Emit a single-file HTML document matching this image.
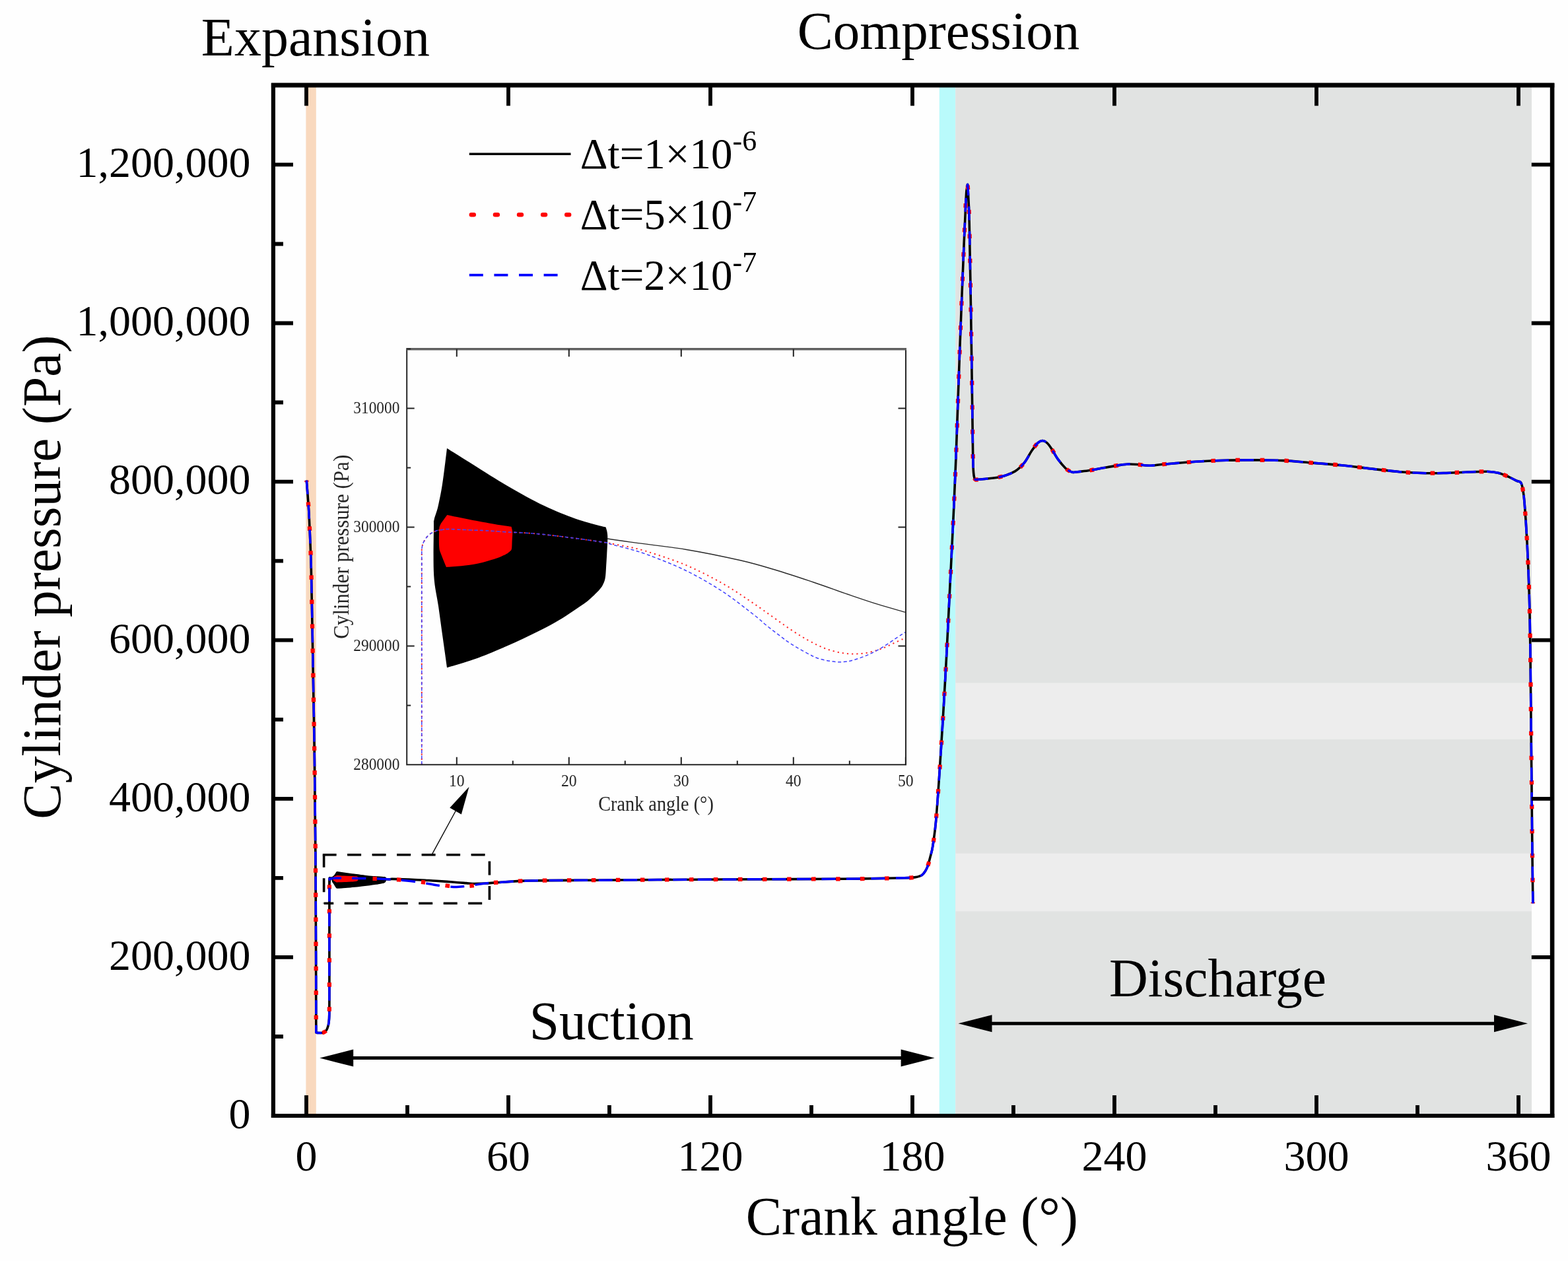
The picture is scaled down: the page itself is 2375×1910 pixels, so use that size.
<!DOCTYPE html>
<html lang="en">
<head>
<meta charset="utf-8">
<title>Cylinder pressure vs crank angle</title>
<style>
html,body{margin:0;padding:0;background:#fefefe;}
body{width:2375px;height:1910px;overflow:hidden;}
svg{display:block;font-family:"Liberation Serif","DejaVu Serif",serif;}
#fig{width:2375px;height:1910px;}
svg text{white-space:pre;}
</style>
</head>
<body>
<div id="fig">
<svg width="2375" height="1910" viewBox="0 0 2375 1910">
<rect width="2375" height="1910" fill="#fefefe"/>
<rect x="463.4" y="129" width="15.4" height="1561" fill="#f9d9be"/>
<rect x="1422.8" y="129" width="24.4" height="1561" fill="#b9fafb"/>
<rect x="1447.2" y="129" width="872.8" height="1561" fill="#e1e3e2"/>
<rect x="1447.2" y="1034.3" width="872.8" height="85.6" fill="#ededed"/>
<rect x="1447.2" y="1292.7" width="872.8" height="87.6" fill="#ededed"/>
<g id="inset">
<path d="M677 679 C682.8 682.6 697.3 691.7 711.5 700.6 C725.7 709.5 744.6 721.9 762.3 732.3 C780 742.7 800.4 754.4 817.7 762.9 C835 771.4 851.8 778.1 865.9 783.4 C880 788.7 893.5 792.2 902.1 794.7 C910.7 797.2 915 797.8 917.6 798.4 L917.6 798.4 C917.9 799.7 919.2 803.1 919.6 806 C920 808.9 920.4 810.3 920.3 816 C920.2 821.7 919.6 832.7 919.2 840 C918.8 847.3 918.4 854 918 860 C917.6 866 917.5 871.5 916.6 876 C915.7 880.5 914.2 883.8 912.5 887 C910.8 890.2 907.4 893.7 906.4 895 L906.4 895 C904.5 896.8 899.1 902.4 895 906 C890.9 909.6 890.7 910.3 881.5 916.5 C872.3 922.7 856.1 934.2 840 943.3 C823.9 952.4 803.1 962.5 784.6 971 C766.1 979.5 743.3 989 729.2 994.6 C715.1 1000.2 708.7 1001.7 700 1004.5 C691.3 1007.3 680.9 1010.1 677.1 1011.2 L677.1 1011.2 C676.1 1004.1 673.2 983.8 671 968.3 C668.8 952.8 666.4 934.5 664.1 918.4 C661.8 902.2 658.4 891.2 657.2 871.4 C656 851.6 656.9 813.7 657 799.6 C657.1 785.5 656.6 792.2 657.6 786.9 C658.6 781.6 661.3 776.4 663.3 767.9 C665.3 759.4 667.7 747.7 669.6 736.1 C671.5 724.5 673.5 707.6 674.7 698.1 C675.9 688.6 676.6 682.2 677 679 Z" fill="#000"/>
<path d="M920 816 C925.9 816.9 935.7 818.4 955.4 821.1 C975.1 823.8 1010.7 827.6 1038.4 832.2 C1066.1 836.8 1098.4 843.5 1121.5 848.8 C1144.6 854.1 1158.4 858.5 1176.9 864 C1195.4 869.5 1213.8 875.8 1232.3 882 C1250.8 888.2 1271.5 895.9 1287.7 901.4 C1303.9 906.9 1315.2 910.8 1329.2 915.2 C1343.2 919.6 1364.9 925.5 1372 927.6" fill="none" stroke="#2a2a2a" stroke-width="1.4"/>
<path d="M677.3 779.9 C683 781.1 699.5 784.6 711.5 786.9 C723.5 789.2 739.1 792.1 749.6 793.9 C760.1 795.7 770.4 797.1 774.5 797.7 L774.5 797.7 C774.8 799.1 776 802.2 776.2 805.9 C776.4 809.6 775.8 815.8 775.6 820 C775.4 824.2 775.5 828.8 775 831.3 C774.5 833.8 773.6 833.9 772.5 835 C771.4 836.1 769.2 837.7 768.6 838.2 L768.6 838.2 C767.2 838.9 763.2 841.1 760 842.5 C756.8 843.9 755.6 844.7 749.6 846.5 C743.6 848.3 732.7 851.7 724.2 853.5 C715.7 855.3 706.8 856.4 698.8 857.3 C690.8 858.2 679.8 858.7 676 859 L676 859 C674.7 855.9 670.2 845.2 668.4 840.2 C666.6 835.2 665.7 834.9 665.2 828.8 C664.7 822.7 664.9 809.1 665.2 803.4 C665.5 797.7 665.9 797.2 667.1 794.5 C668.3 791.8 670.5 789.3 672.2 786.9 C673.9 784.5 676.4 781.1 677.3 779.9 Z" fill="#fe0000"/>
<path d="M638.8 1158 C638.8 1103.7 638.8 886.3 638.8 832 L638.8 832 C639.1 830.6 639.4 826.6 640.5 823.7 C641.6 820.8 643.6 817.3 645.5 814.8 C647.4 812.3 649.4 810.3 651.9 808.5 C654.4 806.7 657.8 805 660.8 804 C663.8 803 666.4 802.8 669.6 802.4 C672.8 802 672.8 801.4 679.8 801.5 C686.8 801.6 702 802.4 711.5 802.8 C721 803.2 727.4 803.3 736.9 803.8 C746.4 804.3 756.4 805.2 768.6 805.9 C780.8 806.6 793.9 806.8 810 808.2 C826.1 809.6 846.8 812.2 865 814.5 C883.2 816.8 909 820.5 919 822 C929 823.5 919 822.1 925 823.3 C931 824.5 945.3 826.8 955 829 C964.7 831.2 969.1 831.8 983 836.3 C996.9 840.8 1019.9 847.9 1038.4 855.7 C1056.9 863.6 1076.5 873.6 1093.8 883.4 C1111.1 893.2 1124 902.2 1142.2 914.5 C1160.4 926.8 1186.6 946.4 1202.7 956.9 C1218.8 967.4 1228.9 972.6 1239 977.5 C1249.1 982.4 1255.2 984.3 1263.3 986.4 C1271.4 988.5 1279.4 989.9 1287.5 990.3 C1295.6 990.7 1303.6 990.3 1311.7 989 C1319.8 987.7 1328 985.2 1336 982.3 C1344 979.3 1354 974 1360 971.3 C1366 968.6 1370 966.9 1372 966" fill="none" stroke="#ff2a2a" stroke-width="2" stroke-dasharray="2.2 5"/>
<path d="M638.8 1158 C638.8 1103.7 638.8 886.3 638.8 832 L638.8 832 C639.1 830.6 639.4 826.6 640.5 823.7 C641.6 820.8 643.6 817.3 645.5 814.8 C647.4 812.3 649.4 810.3 651.9 808.5 C654.4 806.7 657.8 805 660.8 804 C663.8 803 666.4 802.8 669.6 802.4 C672.8 802 672.8 801.4 679.8 801.5 C686.8 801.6 702 802.4 711.5 802.8 C721 803.2 727.4 803.3 736.9 803.8 C746.4 804.3 756.4 805.2 768.6 805.9 C780.8 806.6 793.9 806.8 810 808.2 C826.1 809.6 846.8 812.2 865 814.5 C883.2 816.8 909 820.4 919 822 C929 823.6 919 822.6 925 824.3 C931 826 945.3 829.2 955 832 C964.7 834.8 969.1 835.7 983 841 C996.9 846.3 1019.9 854.9 1038.4 864 C1056.9 873.1 1076.5 884.2 1093.8 895.5 C1111.1 906.8 1131.2 923 1142.2 931.5 C1153.2 940 1153.9 941.5 1160 946.5 C1166.1 951.5 1172.6 956.5 1178.9 961.2 C1185.2 966 1190.5 970.3 1197.8 975 C1205.1 979.7 1215.6 985.8 1222.9 989.6 C1230.2 993.4 1234.7 995.9 1241.8 998 C1248.9 1000.1 1259.4 1001.8 1265.8 1002.5 C1272.2 1003.2 1275.7 1002.6 1280 1002.2 C1284.3 1001.8 1285.8 1001.8 1291.4 1000.2 C1297 998.6 1306 995.7 1313.6 992.4 C1321.2 989.1 1329.3 984.8 1337 980.2 C1344.7 975.6 1354.2 968.6 1360 964.8 C1365.8 961 1370 958.5 1372 957.2" fill="none" stroke="#4040ff" stroke-width="1.5" stroke-dasharray="5 3.6"/>
<path d="M616.2 527.7V1158.2H1372V527.7" fill="none" stroke="#262626" stroke-width="2"/>
<path d="M615.2 528.8H1373" fill="none" stroke="#606060" stroke-width="3.6"/>
<path d="M691.8 1158.2v-11.5 M691.8 528.7v11.5 M776.8 1158.2v-6 M861.8 1158.2v-11.5 M861.8 528.7v11.5 M946.8 1158.2v-6 M1031.8 1158.2v-11.5 M1031.8 528.7v11.5 M1116.8 1158.2v-6 M1201.8 1158.2v-11.5 M1201.8 528.7v11.5 M1286.8 1158.2v-6 M1371.8 1158.2v-11.5 M616.2 1068.5h6 M616.2 978.5h11.5 M1372 978.5h-11.5 M616.2 888.5h6 M616.2 798.5h11.5 M1372 798.5h-11.5 M616.2 708.5h6 M616.2 618.5h11.5 M1372 618.5h-11.5 M616.2 528.5h6" fill="none" stroke="#222" stroke-width="2"/>
<g fill="#262626">
<text transform="translate(691.8 1190.5) scale(0.93 1)" font-size="25.5" text-anchor="middle">10</text>
<text transform="translate(861.8 1190.5) scale(0.93 1)" font-size="25.5" text-anchor="middle">20</text>
<text transform="translate(1031.8 1190.5) scale(0.93 1)" font-size="25.5" text-anchor="middle">30</text>
<text transform="translate(1201.8 1190.5) scale(0.93 1)" font-size="25.5" text-anchor="middle">40</text>
<text transform="translate(1371.8 1190.5) scale(0.93 1)" font-size="25.5" text-anchor="middle">50</text>
<text transform="translate(605.3 1166.3) scale(0.915 1)" font-size="25.5" text-anchor="end">280000</text>
<text transform="translate(605.3 986.3) scale(0.915 1)" font-size="25.5" text-anchor="end">290000</text>
<text transform="translate(605.3 806.3) scale(0.915 1)" font-size="25.5" text-anchor="end">300000</text>
<text transform="translate(605.3 626.3) scale(0.915 1)" font-size="25.5" text-anchor="end">310000</text>
<text transform="translate(993.5 1228.2) scale(0.928 1)" font-size="30.5" text-anchor="middle">Crank angle (°)</text>
<text transform="translate(527.7 828.3) rotate(-90) scale(0.94 1)" font-size="33" text-anchor="middle">Cylinder pressure (Pa)</text>
</g>
</g>
<g id="curves" fill="none" stroke-linejoin="round">
<path d="M464.3 727.7 C464.6 731.8 465.5 742.2 466.2 752 C466.9 761.8 467.6 769.2 468.4 786.5 C469.2 803.8 470.4 829.8 471.2 855.7 C471.9 881.7 472.3 910.5 472.9 942.2 C473.5 973.9 474.1 1011.4 474.7 1046 C475.3 1080.6 475.9 1109.5 476.4 1149.8 C476.9 1190.1 477.4 1238 477.8 1288 C478.2 1338 478.4 1406.2 478.6 1450 C478.8 1493.8 478.8 1532.2 478.8 1551 C478.8 1569.8 478.8 1560.6 478.8 1562.5 L478.8 1563.8 C479.1 1563.9 478.9 1564.3 480.5 1564.4 C482.1 1564.5 486.4 1564.7 488.5 1564.3 C490.6 1563.9 491.8 1563.1 493 1562 C494.2 1560.9 495 1559.8 495.8 1557.6 C496.6 1555.4 497.5 1552.8 498 1549 C498.5 1545.2 498.7 1543.2 498.8 1535 C498.9 1526.8 498.9 1505.8 498.9 1500 L498.9 1500 C498.9 1474.2 498.9 1371.7 498.9 1345 C498.9 1318.3 498.9 1340.8 498.9 1340 L498.9 1340 C499 1339 499 1335.5 499.3 1334 C499.6 1332.5 499.9 1331.8 500.5 1331.2 C501.1 1330.6 502.1 1330.4 503 1330.2 C503.9 1330 492.5 1329.7 506 1330 C519.5 1330.3 569.3 1331.6 584 1331.8 C598.7 1332 588.2 1331.3 594.1 1331.4 C599.9 1331.4 610.7 1331.8 619 1332.1 C627.3 1332.4 637 1332.9 643.9 1333.2 C650.8 1333.6 655 1333.8 660.5 1334.2 C666.1 1334.6 671.6 1335 677.1 1335.4 C682.7 1335.8 688.9 1336.3 693.8 1336.7 C698.6 1337.1 702 1337.3 706.2 1337.6 C710.4 1337.9 714.3 1338.4 719.1 1338.5 C723.9 1338.5 728.2 1338.4 735 1338 C741.8 1337.6 748.2 1336.9 760 1336.2 C771.8 1335.5 782.5 1334.4 805.8 1333.9 C829.1 1333.4 858.9 1333.5 900 1333.2 C941.1 1332.9 1002.5 1332.5 1052.5 1332.2 C1102.5 1331.9 1158.9 1331.8 1200 1331.6 C1241.1 1331.4 1270.7 1331.4 1299 1331.1 C1327.3 1330.8 1355.2 1330.2 1369.8 1329.8 C1384.4 1329.4 1382.9 1329.1 1386.8 1328.6 C1390.7 1328.1 1391.3 1327.6 1393 1327 C1394.7 1326.4 1395.4 1326.5 1396.8 1325.2 C1398.2 1324 1400.1 1321.7 1401.5 1319.5 C1402.9 1317.3 1404 1315.4 1405.2 1311.8 C1406.5 1308.2 1407.7 1303 1409 1298 C1410.3 1293 1411.4 1290.5 1412.8 1281.7 C1414.2 1272.9 1415.9 1262.3 1417.5 1245 C1419.1 1227.7 1420.8 1203.1 1422.5 1178 C1424.2 1152.9 1426.1 1125.1 1427.9 1094.4 C1429.8 1063.8 1431.8 1027.5 1433.6 994.1 C1435.4 960.7 1436.9 927.2 1438.6 893.8 C1440.3 860.3 1442 827.4 1443.6 793.4 C1445.2 759.4 1446.4 733.4 1448.1 689.6 C1449.8 645.8 1451.7 584.1 1453.7 530.7 C1455.7 477.3 1458.5 408 1460.1 369.2 C1461.7 330.4 1462.5 312.1 1463.3 298 C1464 283.9 1464.4 286.8 1464.6 284.5 L1464.6 284.5 C1464.7 283.9 1465.2 281.6 1465.3 281 L1465.3 281 C1465.4 281.6 1465.5 275.2 1466 284.5 C1466.5 293.8 1467.5 306.8 1468.2 337 C1469 367.2 1469.8 423 1470.5 466 C1471.2 509 1471.9 557.3 1472.4 595 C1472.9 632.7 1473.3 671.8 1473.7 692 C1474.1 712.2 1474.2 710.6 1474.6 716 C1475 721.4 1475.4 722.7 1476 724.5 C1476.6 726.3 1477.7 726.2 1478 726.6 L1478 726.6 C1481.3 726.3 1491.6 725.6 1498 724.8 C1504.4 724 1509.9 723.8 1516.5 722 C1523.1 720.2 1531.6 717.4 1537.4 713.9 C1543.2 710.4 1547 706.4 1551.3 701.2 C1555.5 696 1559.4 687.7 1562.9 682.6 C1566.4 677.5 1569.5 673.1 1572.2 670.6 C1574.9 668.1 1576.8 667.4 1579.1 667.5 C1581.4 667.6 1583.8 668.9 1586.1 671 C1588.4 673.1 1590.4 676.2 1593.1 680.3 C1595.8 684.4 1598.8 690.6 1602.3 695.4 C1605.8 700.2 1610.8 706.2 1613.9 709.3 C1617 712.4 1619.1 713 1621 714 C1622.9 715 1624.8 715.2 1625.5 715.5 L1625.5 715.5 C1629.4 715 1641 713.9 1648.7 712.8 C1656.4 711.6 1664.2 710 1671.9 708.6 C1679.6 707.2 1688.9 705.5 1695.1 704.6 C1701.3 703.7 1704.4 703.2 1709 703 C1713.6 702.8 1717.5 703.1 1722.9 703.5 C1728.3 703.9 1734.5 705.4 1741.5 705.3 C1748.5 705.2 1753.1 704 1764.7 703 C1776.3 702 1795.6 700.3 1811.1 699.3 C1826.5 698.3 1842 697.6 1857.4 697.2 C1872.9 696.8 1889.4 696.8 1903.8 696.9 C1918.2 697 1930 696.9 1944 697.6 C1958 698.3 1973.4 699.9 1988.1 701.1 C2002.8 702.3 2017.5 703.3 2032.2 704.8 C2046.9 706.3 2061.5 708.2 2076.2 709.9 C2090.9 711.5 2107.4 713.6 2120.3 714.7 C2133.2 715.8 2142.4 716.2 2153.4 716.5 C2164.4 716.8 2175.4 716.7 2186.4 716.5 C2197.4 716.3 2208.5 715.6 2219.5 715.2 C2230.5 714.8 2244.1 714.1 2252.5 714.3 C2260.9 714.5 2264.6 715.1 2270.1 716.5 C2275.6 717.9 2281.1 720.5 2285.5 722.4 C2289.9 724.3 2293.8 726.8 2296.6 728 C2299.4 729.2 2301.5 729.5 2302.5 729.8 L2302.5 729.8 C2302.8 730.3 2303.9 731.1 2304.6 733 C2305.3 734.9 2305.8 736.4 2306.5 741 C2307.2 745.6 2307.9 747.3 2309 760.6 C2310.1 773.9 2311.8 797.5 2313 821 C2314.2 844.5 2315.5 875 2316.3 901.9 C2317.1 928.8 2317.4 949 2317.9 982.6 C2318.4 1016.2 2318.7 1063.3 2319.1 1103.7 C2319.5 1144.1 2320 1191.2 2320.3 1224.8 C2320.6 1258.4 2320.8 1281.7 2321.1 1305.6 C2321.4 1329.5 2321.8 1357.8 2321.9 1368.2" stroke="#000" stroke-width="3.6"/>
<path d="M510.6 1321.9 C512.3 1322.1 516.6 1322.7 520.9 1323.3 C525.2 1323.9 530.8 1324.7 536.1 1325.4 C541.5 1326.1 547.6 1326.9 552.8 1327.5 C558 1328 563 1328.5 567.2 1328.8 C571.5 1329.2 575.5 1329.4 578.1 1329.6 C580.7 1329.8 582 1329.8 582.7 1329.8 L582.7 1329.8 C582.8 1329.9 583.2 1330.2 583.3 1330.4 C583.5 1330.5 583.6 1330.6 583.5 1331 C583.5 1331.4 583.3 1332.1 583.2 1332.6 C583.1 1333.1 583 1333.6 582.9 1334 C582.7 1334.4 582.7 1334.7 582.4 1335 C582.2 1335.3 581.7 1335.5 581.2 1335.8 C580.7 1336 579.7 1336.2 579.4 1336.3 L579.4 1336.3 C578.8 1336.4 577.2 1336.8 576 1337 C574.7 1337.3 574.7 1337.3 571.9 1337.7 C569.2 1338.1 564.3 1338.9 559.5 1339.5 C554.6 1340.1 548.4 1340.8 542.8 1341.4 C537.3 1341.9 530.5 1342.6 526.2 1342.9 C522 1343.3 520.1 1343.4 517.5 1343.6 C514.9 1343.8 511.7 1344 510.6 1344 L510.6 1344 C510.3 1343.6 509.4 1342.2 508.8 1341.2 C508.1 1340.1 507.4 1338.9 506.7 1337.8 C506 1336.8 505 1336 504.6 1334.7 C504.3 1333.4 504.5 1330.9 504.6 1329.9 C504.6 1329 504.4 1329.4 504.7 1329.1 C505.1 1328.7 505.8 1328.4 506.4 1327.8 C507.1 1327.2 507.8 1326.5 508.3 1325.7 C508.9 1324.9 509.5 1323.8 509.9 1323.2 C510.2 1322.5 510.4 1322.1 510.6 1321.9 Z" fill="#000" stroke="#000" stroke-width="3.6"/>
<path d="M510.6 1328.6 C512.4 1328.7 517.3 1328.9 520.9 1329.1 C524.5 1329.2 529.2 1329.4 532.3 1329.5 C535.5 1329.7 538.6 1329.8 539.8 1329.8 L539.8 1329.8 C539.9 1329.9 540.3 1330.1 540.3 1330.3 C540.4 1330.6 540.2 1331 540.1 1331.3 C540.1 1331.6 540.1 1331.9 540 1332 C539.8 1332.2 539.5 1332.2 539.2 1332.3 C538.9 1332.4 538.2 1332.5 538 1332.5 L538 1332.5 C537.6 1332.5 536.4 1332.7 535.5 1332.8 C534.5 1332.9 534.1 1332.9 532.3 1333.1 C530.6 1333.2 527.3 1333.4 524.7 1333.5 C522.2 1333.6 519.5 1333.7 517.1 1333.8 C514.7 1333.8 511.4 1333.9 510.3 1333.9 L510.3 1333.9 C509.9 1333.7 508.5 1333 508 1332.6 C507.4 1332.3 507.2 1332.3 507 1331.9 C506.9 1331.5 506.9 1330.6 507 1330.2 C507.1 1329.8 507.2 1329.8 507.6 1329.6 C507.9 1329.4 508.6 1329.2 509.1 1329.1 C509.6 1328.9 510.4 1328.7 510.6 1328.6 Z" fill="#fe0000" stroke="#fe0000" stroke-width="5"/>
<path d="M464.3 727.7 C464.6 731.8 465.5 742.2 466.2 752 C466.9 761.8 467.6 769.2 468.4 786.5 C469.2 803.8 470.4 829.8 471.2 855.7 C471.9 881.7 472.3 910.5 472.9 942.2 C473.5 973.9 474.1 1011.4 474.7 1046 C475.3 1080.6 475.9 1109.5 476.4 1149.8 C476.9 1190.1 477.4 1238 477.8 1288 C478.2 1338 478.4 1406.2 478.6 1450 C478.8 1493.8 478.8 1532.2 478.8 1551 C478.8 1569.8 478.8 1560.6 478.8 1562.5 L478.8 1563.8 C479.1 1563.9 478.9 1564.3 480.5 1564.4 C482.1 1564.5 486.4 1564.7 488.5 1564.3 C490.6 1563.9 491.8 1563.1 493 1562 C494.2 1560.9 495 1559.8 495.8 1557.6 C496.6 1555.4 497.5 1552.8 498 1549 C498.5 1545.2 498.7 1543.2 498.8 1535 C498.9 1526.8 498.9 1505.8 498.9 1500 L498.9 1500 C498.9 1474.2 498.9 1373 498.9 1345 C498.9 1317 499.1 1334.2 499.1 1332.1" stroke="#fe0000" stroke-width="6.2" stroke-dasharray="6.5 30.5" stroke-dashoffset="4"/>
<path d="M499.1 1332.1 C499.2 1332 499.3 1331.7 499.6 1331.5 C499.9 1331.3 500.5 1331.1 501.1 1330.9 C501.7 1330.8 502.3 1330.6 503 1330.5 C503.8 1330.4 504.8 1330.3 505.7 1330.2 C506.6 1330.1 507.4 1330.1 508.3 1330.1 C509.3 1330.1 509.3 1330 511.4 1330.1 C513.5 1330.1 518.1 1330.1 520.9 1330.1 C523.8 1330.2 525.7 1330.2 528.5 1330.2 C531.4 1330.2 534.4 1330.3 538 1330.3 C541.7 1330.4 545.6 1330.4 550.5 1330.5 C555.3 1330.6 561.5 1330.8 567 1330.9 C572.4 1331.1 580.2 1331.3 583.2 1331.4 C586.2 1331.5 583.2 1331.4 585 1331.5 C586.8 1331.6 591.1 1331.7 594 1331.9 C596.9 1332 598.2 1332.1 602.4 1332.4 C606.5 1332.7 613.4 1333.1 619 1333.7 C624.5 1334.2 630.4 1334.9 635.6 1335.5 C640.8 1336.2 644.7 1336.8 650.1 1337.6 C655.6 1338.4 663.4 1339.7 668.3 1340.4 C673.1 1341.1 676.1 1341.5 679.2 1341.8 C682.2 1342.1 684 1342.2 686.5 1342.4 C688.9 1342.5 691.3 1342.6 693.7 1342.6 C696.1 1342.7 698.5 1342.6 701 1342.6 C703.4 1342.5 705.8 1342.3 708.3 1342.1 C710.7 1341.9 713.7 1341.6 715.5 1341.4 C717.3 1341.2 715.8 1341.6 719.1 1341 C722.3 1340.5 728.2 1338.8 735 1338 C741.8 1337.2 748.2 1336.9 760 1336.2 C771.8 1335.5 782.5 1334.4 805.8 1333.9 C829.1 1333.4 858.9 1333.5 900 1333.2 C941.1 1332.9 1002.5 1332.5 1052.5 1332.2 C1102.5 1331.9 1158.9 1331.8 1200 1331.6 C1241.1 1331.4 1270.7 1331.4 1299 1331.1 C1327.3 1330.8 1355.2 1330.2 1369.8 1329.8 C1384.4 1329.4 1382.9 1329.1 1386.8 1328.6 C1390.7 1328.1 1391.3 1327.6 1393 1327 C1394.7 1326.4 1395.4 1326.5 1396.8 1325.2 C1398.2 1324 1400.1 1321.7 1401.5 1319.5 C1402.9 1317.3 1404 1315.4 1405.2 1311.8 C1406.5 1308.2 1407.7 1303 1409 1298 C1410.3 1293 1411.4 1290.5 1412.8 1281.7 C1414.2 1272.9 1415.9 1262.3 1417.5 1245 C1419.1 1227.7 1420.8 1203.1 1422.5 1178 C1424.2 1152.9 1426.1 1125.1 1427.9 1094.4 C1429.8 1063.8 1431.8 1027.5 1433.6 994.1 C1435.4 960.7 1436.9 927.2 1438.6 893.8 C1440.3 860.3 1442 827.4 1443.6 793.4 C1445.2 759.4 1446.4 733.4 1448.1 689.6 C1449.8 645.8 1451.7 584.1 1453.7 530.7 C1455.7 477.3 1458.5 408 1460.1 369.2 C1461.7 330.4 1462.5 312.1 1463.3 298 C1464 283.9 1464.4 286.8 1464.6 284.5 L1464.6 284.5 C1464.7 283.9 1465.2 281.6 1465.3 281 L1465.3 281 C1465.4 281.6 1465.5 275.2 1466 284.5 C1466.5 293.8 1467.5 306.8 1468.2 337 C1469 367.2 1469.8 423 1470.5 466 C1471.2 509 1471.9 557.3 1472.4 595 C1472.9 632.7 1473.3 671.8 1473.7 692 C1474.1 712.2 1474.2 710.6 1474.6 716 C1475 721.4 1475.4 722.7 1476 724.5 C1476.6 726.3 1477.7 726.2 1478 726.6 L1478 726.6 C1481.3 726.3 1491.6 725.6 1498 724.8 C1504.4 724 1509.9 723.8 1516.5 722 C1523.1 720.2 1531.6 717.4 1537.4 713.9 C1543.2 710.4 1547 706.4 1551.3 701.2 C1555.5 696 1559.4 687.7 1562.9 682.6 C1566.4 677.5 1569.5 673.1 1572.2 670.6 C1574.9 668.1 1576.8 667.4 1579.1 667.5 C1581.4 667.6 1583.8 668.9 1586.1 671 C1588.4 673.1 1590.4 676.2 1593.1 680.3 C1595.8 684.4 1598.8 690.6 1602.3 695.4 C1605.8 700.2 1610.8 706.2 1613.9 709.3 C1617 712.4 1619.1 713 1621 714 C1622.9 715 1624.8 715.2 1625.5 715.5 L1625.5 715.5 C1629.4 715 1641 713.9 1648.7 712.8 C1656.4 711.6 1664.2 710 1671.9 708.6 C1679.6 707.2 1688.9 705.5 1695.1 704.6 C1701.3 703.7 1704.4 703.2 1709 703 C1713.6 702.8 1717.5 703.1 1722.9 703.5 C1728.3 703.9 1734.5 705.4 1741.5 705.3 C1748.5 705.2 1753.1 704 1764.7 703 C1776.3 702 1795.6 700.3 1811.1 699.3 C1826.5 698.3 1842 697.6 1857.4 697.2 C1872.9 696.8 1889.4 696.8 1903.8 696.9 C1918.2 697 1930 696.9 1944 697.6 C1958 698.3 1973.4 699.9 1988.1 701.1 C2002.8 702.3 2017.5 703.3 2032.2 704.8 C2046.9 706.3 2061.5 708.2 2076.2 709.9 C2090.9 711.5 2107.4 713.6 2120.3 714.7 C2133.2 715.8 2142.4 716.2 2153.4 716.5 C2164.4 716.8 2175.4 716.7 2186.4 716.5 C2197.4 716.3 2208.5 715.6 2219.5 715.2 C2230.5 714.8 2244.1 714.1 2252.5 714.3 C2260.9 714.5 2264.6 715.1 2270.1 716.5 C2275.6 717.9 2281.1 720.5 2285.5 722.4 C2289.9 724.3 2293.8 726.8 2296.6 728 C2299.4 729.2 2301.5 729.5 2302.5 729.8 L2302.5 729.8 C2302.8 730.3 2303.9 731.1 2304.6 733 C2305.3 734.9 2305.8 736.4 2306.5 741 C2307.2 745.6 2307.9 747.3 2309 760.6 C2310.1 773.9 2311.8 797.5 2313 821 C2314.2 844.5 2315.5 875 2316.3 901.9 C2317.1 928.8 2317.4 949 2317.9 982.6 C2318.4 1016.2 2318.7 1063.3 2319.1 1103.7 C2319.5 1144.1 2320 1191.2 2320.3 1224.8 C2320.6 1258.4 2320.8 1281.7 2321.1 1305.6 C2321.4 1329.5 2321.8 1357.8 2321.9 1368.2" stroke="#fe0000" stroke-width="6.2" stroke-dasharray="6.5 30.5" stroke-dashoffset="8.2"/>
<path d="M464.3 727.7 C464.6 731.8 465.5 742.2 466.2 752 C466.9 761.8 467.6 769.2 468.4 786.5 C469.2 803.8 470.4 829.8 471.2 855.7 C471.9 881.7 472.3 910.5 472.9 942.2 C473.5 973.9 474.1 1011.4 474.7 1046 C475.3 1080.6 475.9 1109.5 476.4 1149.8 C476.9 1190.1 477.4 1238 477.8 1288 C478.2 1338 478.4 1406.2 478.6 1450 C478.8 1493.8 478.8 1532.2 478.8 1551 C478.8 1569.8 478.8 1560.6 478.8 1562.5 L478.8 1563.8 C479.1 1563.9 478.9 1564.3 480.5 1564.4 C482.1 1564.5 486.4 1564.7 488.5 1564.3 C490.6 1563.9 491.8 1563.1 493 1562 C494.2 1560.9 495 1559.8 495.8 1557.6 C496.6 1555.4 497.5 1552.8 498 1549 C498.5 1545.2 498.7 1543.2 498.8 1535 C498.9 1526.8 498.9 1505.8 498.9 1500 L498.9 1500 C498.9 1474.2 498.9 1373 498.9 1345 C498.9 1317 499.1 1334.2 499.1 1332.1 L499.1 1332.1 C499.2 1332 499.3 1331.7 499.6 1331.5 C499.9 1331.3 500.5 1331.1 501.1 1330.9 C501.7 1330.8 502.3 1330.6 503 1330.5 C503.8 1330.4 504.8 1330.3 505.7 1330.2 C506.6 1330.1 507.4 1330.1 508.3 1330.1 C509.3 1330.1 509.3 1330 511.4 1330.1 C513.5 1330.1 518.1 1330.1 520.9 1330.1 C523.8 1330.2 525.7 1330.2 528.5 1330.2 C531.4 1330.2 534.4 1330.3 538 1330.3 C541.7 1330.4 545.6 1330.4 550.5 1330.5 C555.3 1330.6 561.5 1330.8 567 1330.9 C572.4 1331.1 580.2 1331.3 583.2 1331.4 C586.2 1331.5 583.2 1331.5 585 1331.6 C586.8 1331.7 591.1 1331.9 594 1332.1 C596.9 1332.3 598.2 1332.3 602.4 1332.7 C606.5 1333 613.4 1333.6 619 1334.2 C624.5 1334.8 630.4 1335.6 635.6 1336.3 C640.8 1337.1 646.8 1338.2 650.1 1338.7 C653.4 1339.3 653.6 1339.4 655.5 1339.7 C657.3 1340.1 659.2 1340.4 661.1 1340.7 C663 1341 664.6 1341.3 666.8 1341.6 C669 1341.9 672.1 1342.3 674.3 1342.6 C676.5 1342.9 677.9 1343 680 1343.2 C682.1 1343.3 685.3 1343.4 687.2 1343.5 C689.1 1343.5 690.2 1343.5 691.5 1343.4 C692.7 1343.4 693.2 1343.4 694.9 1343.3 C696.6 1343.2 699.3 1343 701.5 1342.8 C703.8 1342.6 706.2 1342.3 708.6 1342 C710.9 1341.7 713.7 1341.2 715.5 1340.9 C717.2 1340.7 715.8 1340.9 719.1 1340.4 C722.3 1339.9 728.2 1338.7 735 1338 C741.8 1337.3 748.2 1336.9 760 1336.2 C771.8 1335.5 782.5 1334.4 805.8 1333.9 C829.1 1333.4 858.9 1333.5 900 1333.2 C941.1 1332.9 1002.5 1332.5 1052.5 1332.2 C1102.5 1331.9 1158.9 1331.8 1200 1331.6 C1241.1 1331.4 1270.7 1331.4 1299 1331.1 C1327.3 1330.8 1355.2 1330.2 1369.8 1329.8 C1384.4 1329.4 1382.9 1329.1 1386.8 1328.6 C1390.7 1328.1 1391.3 1327.6 1393 1327 C1394.7 1326.4 1395.4 1326.5 1396.8 1325.2 C1398.2 1324 1400.1 1321.7 1401.5 1319.5 C1402.9 1317.3 1404 1315.4 1405.2 1311.8 C1406.5 1308.2 1407.7 1303 1409 1298 C1410.3 1293 1411.4 1290.5 1412.8 1281.7 C1414.2 1272.9 1415.9 1262.3 1417.5 1245 C1419.1 1227.7 1420.8 1203.1 1422.5 1178 C1424.2 1152.9 1426.1 1125.1 1427.9 1094.4 C1429.8 1063.8 1431.8 1027.5 1433.6 994.1 C1435.4 960.7 1436.9 927.2 1438.6 893.8 C1440.3 860.3 1442 827.4 1443.6 793.4 C1445.2 759.4 1446.4 733.4 1448.1 689.6 C1449.8 645.8 1451.7 584.1 1453.7 530.7 C1455.7 477.3 1458.5 408 1460.1 369.2 C1461.7 330.4 1462.5 312.1 1463.3 298 C1464 283.9 1464.4 286.8 1464.6 284.5 L1464.6 284.5 C1464.7 283.9 1465.2 281.6 1465.3 281 L1465.3 281 C1465.4 281.6 1465.5 275.2 1466 284.5 C1466.5 293.8 1467.5 306.8 1468.2 337 C1469 367.2 1469.8 423 1470.5 466 C1471.2 509 1471.9 557.3 1472.4 595 C1472.9 632.7 1473.3 671.8 1473.7 692 C1474.1 712.2 1474.2 710.6 1474.6 716 C1475 721.4 1475.4 722.7 1476 724.5 C1476.6 726.3 1477.7 726.2 1478 726.6 L1478 726.6 C1481.3 726.3 1491.6 725.6 1498 724.8 C1504.4 724 1509.9 723.8 1516.5 722 C1523.1 720.2 1531.6 717.4 1537.4 713.9 C1543.2 710.4 1547 706.4 1551.3 701.2 C1555.5 696 1559.4 687.7 1562.9 682.6 C1566.4 677.5 1569.5 673.1 1572.2 670.6 C1574.9 668.1 1576.8 667.4 1579.1 667.5 C1581.4 667.6 1583.8 668.9 1586.1 671 C1588.4 673.1 1590.4 676.2 1593.1 680.3 C1595.8 684.4 1598.8 690.6 1602.3 695.4 C1605.8 700.2 1610.8 706.2 1613.9 709.3 C1617 712.4 1619.1 713 1621 714 C1622.9 715 1624.8 715.2 1625.5 715.5 L1625.5 715.5 C1629.4 715 1641 713.9 1648.7 712.8 C1656.4 711.6 1664.2 710 1671.9 708.6 C1679.6 707.2 1688.9 705.5 1695.1 704.6 C1701.3 703.7 1704.4 703.2 1709 703 C1713.6 702.8 1717.5 703.1 1722.9 703.5 C1728.3 703.9 1734.5 705.4 1741.5 705.3 C1748.5 705.2 1753.1 704 1764.7 703 C1776.3 702 1795.6 700.3 1811.1 699.3 C1826.5 698.3 1842 697.6 1857.4 697.2 C1872.9 696.8 1889.4 696.8 1903.8 696.9 C1918.2 697 1930 696.9 1944 697.6 C1958 698.3 1973.4 699.9 1988.1 701.1 C2002.8 702.3 2017.5 703.3 2032.2 704.8 C2046.9 706.3 2061.5 708.2 2076.2 709.9 C2090.9 711.5 2107.4 713.6 2120.3 714.7 C2133.2 715.8 2142.4 716.2 2153.4 716.5 C2164.4 716.8 2175.4 716.7 2186.4 716.5 C2197.4 716.3 2208.5 715.6 2219.5 715.2 C2230.5 714.8 2244.1 714.1 2252.5 714.3 C2260.9 714.5 2264.6 715.1 2270.1 716.5 C2275.6 717.9 2281.1 720.5 2285.5 722.4 C2289.9 724.3 2293.8 726.8 2296.6 728 C2299.4 729.2 2301.5 729.5 2302.5 729.8 L2302.5 729.8 C2302.8 730.3 2303.9 731.1 2304.6 733 C2305.3 734.9 2305.8 736.4 2306.5 741 C2307.2 745.6 2307.9 747.3 2309 760.6 C2310.1 773.9 2311.8 797.5 2313 821 C2314.2 844.5 2315.5 875 2316.3 901.9 C2317.1 928.8 2317.4 949 2317.9 982.6 C2318.4 1016.2 2318.7 1063.3 2319.1 1103.7 C2319.5 1144.1 2320 1191.2 2320.3 1224.8 C2320.6 1258.4 2320.8 1281.7 2321.1 1305.6 C2321.4 1329.5 2321.8 1357.8 2321.9 1368.2" stroke="#0000fe" stroke-width="3.5" stroke-dasharray="21 16.5"/>
</g>
<g id="axes" fill="none" stroke="#000">
<path d="M410.9 129.1H2354.3" stroke-width="7"/>
<path d="M410.9 1690H2354.3" stroke-width="6.2"/>
<path d="M413.9 126V1693" stroke-width="6.2"/>
<path d="M2351.1 126V1693" stroke-width="6.6"/>
<path d="M464 1690v-31 M464 129.2v31 M617 1690v-16 M770 1690v-31 M770 129.2v31 M923 1690v-16 M1076 1690v-31 M1076 129.2v31 M1229 1690v-16 M1382 1690v-31 M1382 129.2v31 M1535 1690v-16 M1688 1690v-31 M1688 129.2v31 M1841 1690v-16 M1994 1690v-31 M1994 129.2v31 M2147 1690v-16 M2300 1690v-31 M2300 129.2v31 M414 1570h15 M414 1449.9h30 M2351 1449.9h-31.2 M414 1329.8h15 M414 1209.8h30 M2351 1209.8h-31.2 M414 1089.8h15 M414 969.7h30 M2351 969.7h-31.2 M414 849.6h15 M414 729.6h30 M2351 729.6h-31.2 M414 609.5h15 M414 489.5h30 M2351 489.5h-31.2 M414 369.5h15 M414 249.4h30 M2351 249.4h-31.2" stroke-width="5.8"/>
</g>
<g id="annot">
<path d="M490.6 1294.8H741.4V1368.3H490.6M490.6 1294.8V1368.3" fill="none" stroke="#000" stroke-width="3.6" stroke-dasharray="21 16.5" stroke-dashoffset="2" stroke-linejoin="miter"/>
<path d="M488.8 1294.8h2" stroke="#000" stroke-width="3.6"/>
<path d="M654.6 1293.6L692 1225" stroke="#111" stroke-width="1.5" fill="none"/>
<path d="M710.5 1191.7L681.3 1223.4L698.8 1233.5Z" fill="#000"/>
<path d="M533.2 1602.6H1366.6" stroke="#000" stroke-width="5" fill="none"/>
<path d="M484.2 1602.6l51 -13v26Z" fill="#000"/>
<path d="M1415.6 1602.6l-51 -13v26Z" fill="#000"/>
<path d="M1500.5 1550.2H2265" stroke="#000" stroke-width="5" fill="none"/>
<path d="M1451.5 1550.2l51 -13v26Z" fill="#000"/>
<path d="M2314 1550.2l-51 -13v26Z" fill="#000"/>
<path d="M710.8 233.2H864.5" stroke="#000" stroke-width="3.4" fill="none"/>
<path d="M713.8 325.3H866" stroke="#fe0000" stroke-width="6.4" stroke-dasharray="4 32.1" stroke-linecap="round" fill="none"/>
<path d="M710.8 416.6H846" stroke="#0000fe" stroke-width="3.6" stroke-dasharray="21 16.6" fill="none"/>
</g>
<g id="text" fill="#000">
<g font-size="81.5">
<text x="304.8" y="83.5" font-size="82">Expansion</text>
<text x="1207.8" y="74.2" font-size="81">Compression</text>
<text x="801.8" y="1574">Suction</text>
<text x="1680" y="1508.5">Discharge</text>
<text x="1381.3" y="1870.1" text-anchor="middle">Crank angle (°)</text>
<text transform="translate(90.9 874) rotate(-90)" text-anchor="middle">Cylinder pressure (Pa)</text>
</g>
<g font-size="66">
<text x="379.6" y="1708.8" text-anchor="end">0</text>
<text x="379.6" y="1468.7" text-anchor="end">200,000</text>
<text x="379.6" y="1228.6" text-anchor="end">400,000</text>
<text x="379.6" y="988.5" text-anchor="end">600,000</text>
<text x="379.6" y="748.4" text-anchor="end">800,000</text>
<text x="379.6" y="508.3" text-anchor="end">1,000,000</text>
<text x="379.6" y="268.2" text-anchor="end">1,200,000</text>
<text x="464" y="1773.2" text-anchor="middle">0</text>
<text x="770" y="1773.2" text-anchor="middle">60</text>
<text x="1076" y="1773.2" text-anchor="middle">120</text>
<text x="1382" y="1773.2" text-anchor="middle">180</text>
<text x="1688" y="1773.2" text-anchor="middle">240</text>
<text x="1994" y="1773.2" text-anchor="middle">300</text>
<text x="2300" y="1773.2" text-anchor="middle">360</text>
</g>
<g font-size="65">
<text x="878.8" y="254.6">Δt=1×10<tspan font-size="44" dy="-27">-6</tspan></text>
<text x="878.8" y="347">Δt=5×10<tspan font-size="44" dy="-27">-7</tspan></text>
<text x="878.8" y="439.2">Δt=2×10<tspan font-size="44" dy="-27">-7</tspan></text>
</g>
</g>
</svg>
</div>
</body>
</html>
